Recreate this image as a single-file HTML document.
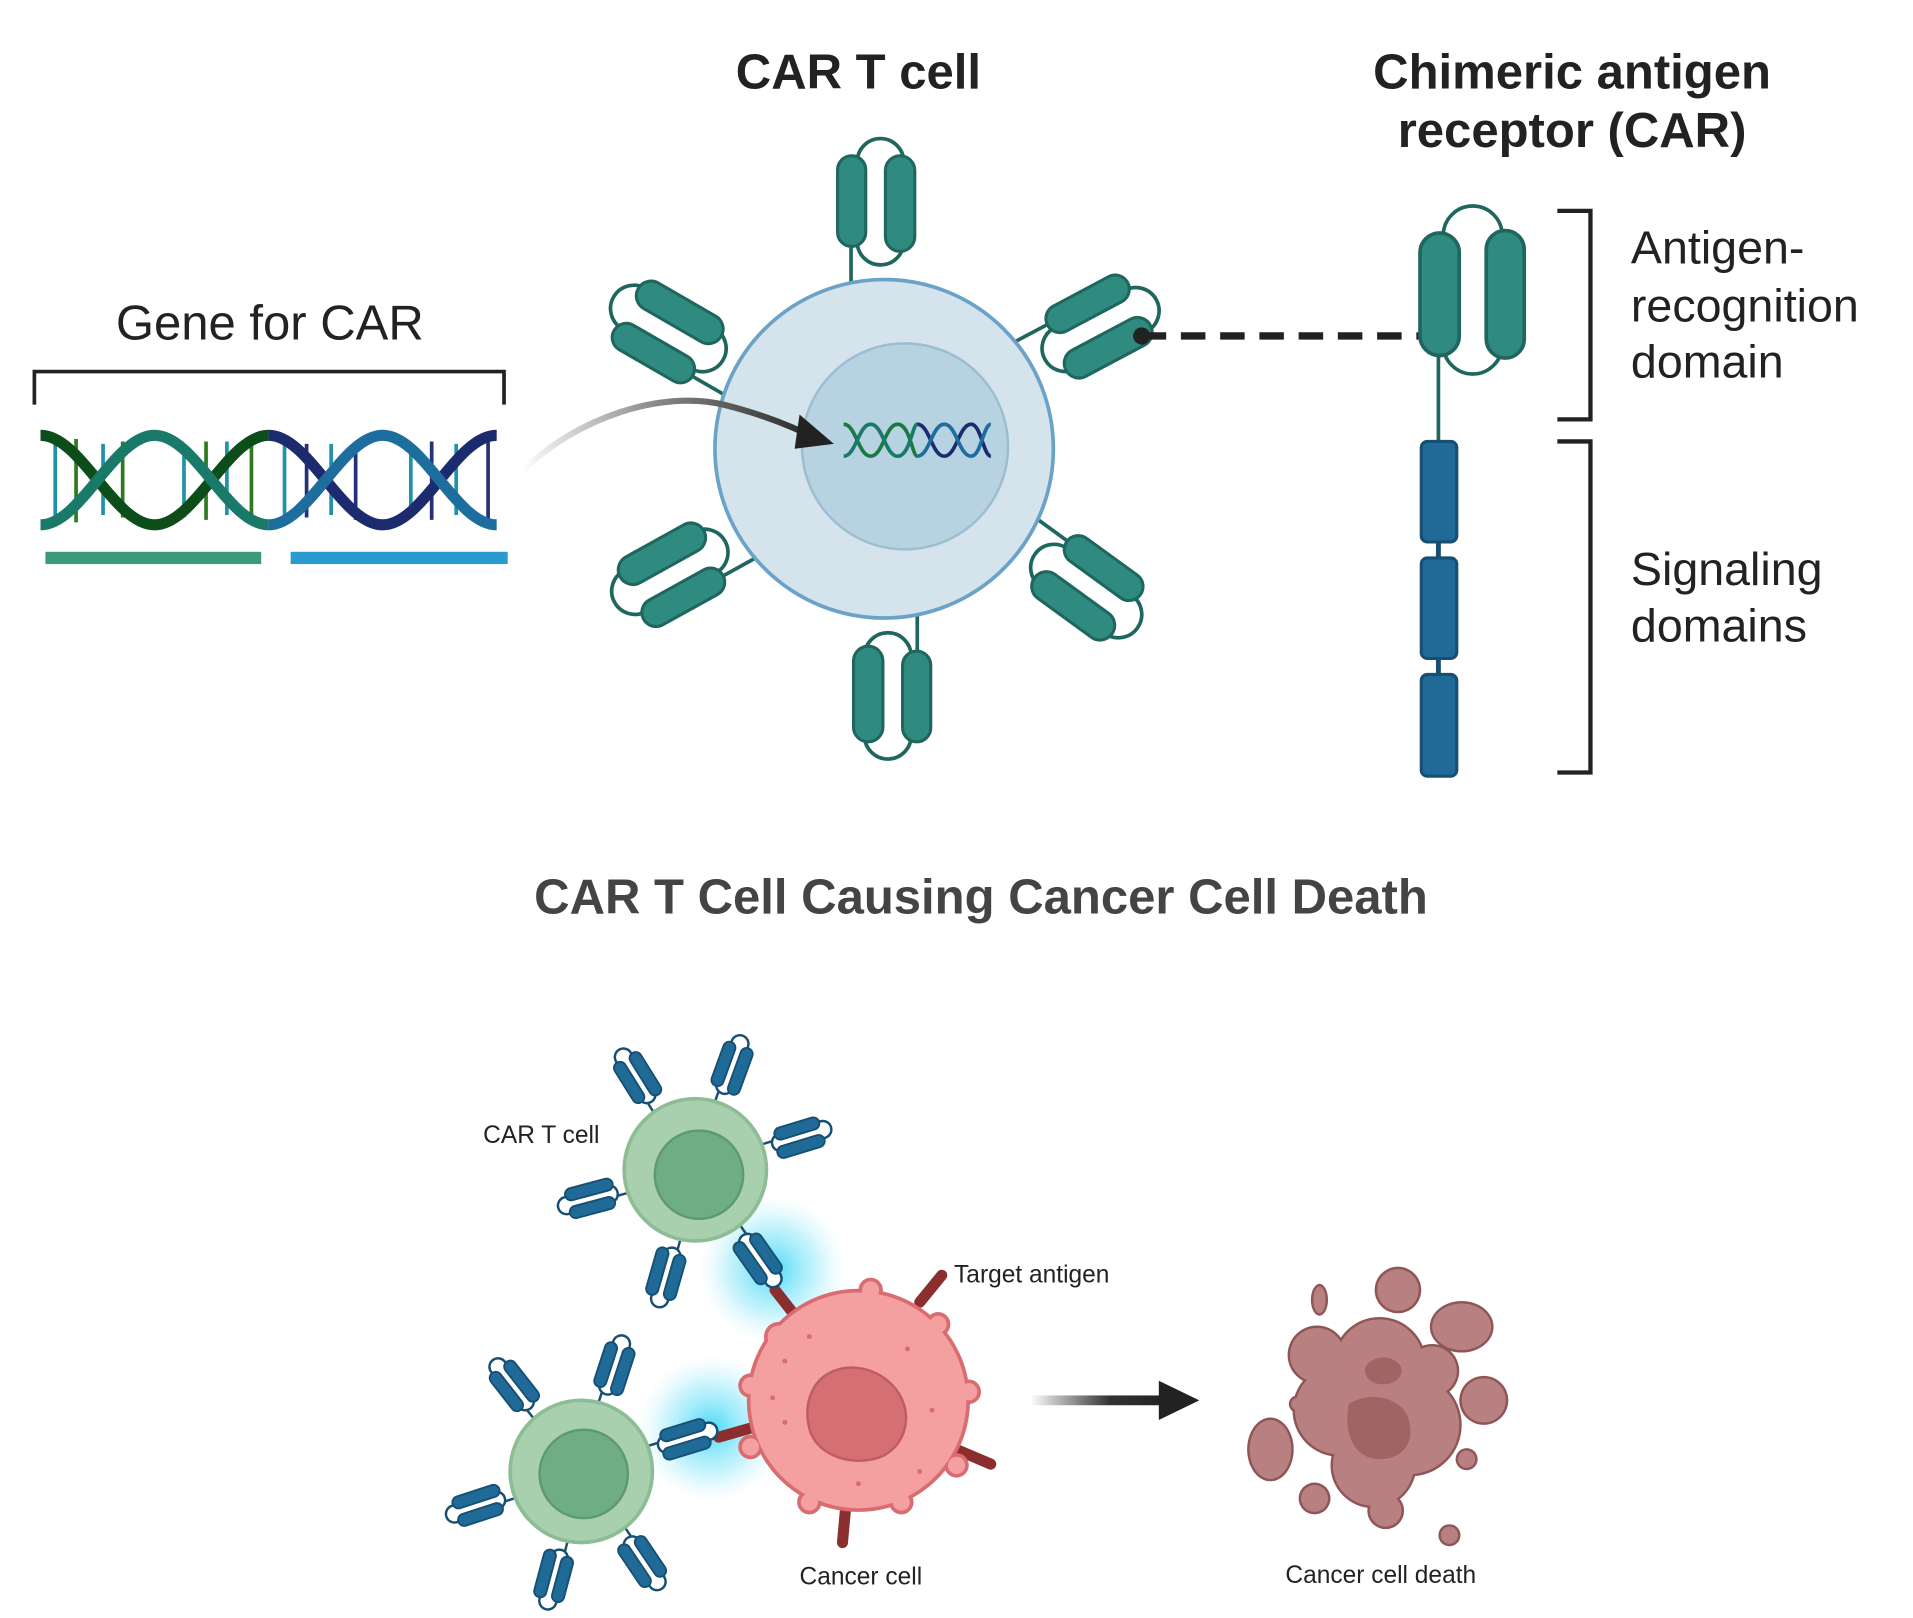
<!DOCTYPE html>
<html><head><meta charset="utf-8"><style>
html,body{margin:0;padding:0;background:#fff;}
svg{display:block;}
text{font-family:"Liberation Sans",Arial,sans-serif;}
</style></head><body>
<svg width="1913" height="1618" viewBox="0 0 1560 1319.5" xmlns="http://www.w3.org/2000/svg">
<defs>
<linearGradient id="ag" x1="0" y1="0" x2="1" y2="0"><stop offset="0" stop-color="#fff"/><stop offset="0.45" stop-color="#888"/><stop offset="1" stop-color="#222"/></linearGradient>
<linearGradient id="ag2" x1="0" y1="0" x2="1" y2="0"><stop offset="0" stop-color="#fff"/><stop offset="0.6" stop-color="#333"/><stop offset="1" stop-color="#222"/></linearGradient>
<radialGradient id="glow"><stop offset="0" stop-color="#3fd8f5" stop-opacity="0.95"/><stop offset="0.6" stop-color="#8ee8fa" stop-opacity="0.5"/><stop offset="1" stop-color="#c8f3fd" stop-opacity="0"/></radialGradient>
<g id="bigR">
 <line x1="-27" y1="-136" x2="-27" y2="-168" stroke="#1e665e" stroke-width="3"/>
 <rect x="-22" y="-253" width="38" height="103" rx="19" fill="#fff" stroke="#1e665e" stroke-width="3"/>
 <rect x="-38" y="-239" width="23" height="74" rx="11.5" fill="#2f8a80" stroke="#1e665e" stroke-width="2.5"/>
 <rect x="1" y="-239" width="24" height="78" rx="12" fill="#2f8a80" stroke="#1e665e" stroke-width="2.5"/>
</g>
<g id="smR">
 <line x1="-4" y1="0" x2="-4" y2="-12" stroke="#174f72" stroke-width="2"/>
 <rect x="-8" y="-58" width="14" height="50" rx="7" fill="#fff" stroke="#174f72" stroke-width="2"/>
 <rect x="-13" y="-50" width="10" height="38" rx="5" fill="#1f6a96" stroke="#174f72" stroke-width="1.5"/>
 <rect x="2" y="-50" width="10" height="40" rx="5" fill="#1f6a96" stroke="#174f72" stroke-width="1.5"/>
</g>
</defs>

<text x="700" y="72" font-size="40" font-weight="bold" text-anchor="middle" fill="#222">CAR T cell</text>
<text x="1282" y="72" font-size="40" font-weight="bold" text-anchor="middle" fill="#222">Chimeric antigen</text>
<text x="1282" y="120" font-size="40" font-weight="bold" text-anchor="middle" fill="#222">receptor (CAR)</text>
<text x="220" y="277" font-size="40" text-anchor="middle" fill="#222">Gene for CAR</text>

<path d="M28 330 V303 H411 V330" fill="none" stroke="#222" stroke-width="3"/>

<g stroke-width="3">
<line x1="45" y1="360" x2="45" y2="425" stroke="#1c93a8"/><line x1="62" y1="358" x2="62" y2="426" stroke="#2e7a20"/>
<line x1="84" y1="362" x2="84" y2="420" stroke="#1c93a8"/><line x1="100" y1="360" x2="100" y2="422" stroke="#2e7a20"/>
<line x1="150" y1="362" x2="150" y2="422" stroke="#1c93a8"/><line x1="168" y1="360" x2="168" y2="424" stroke="#2e7a20"/>
<line x1="185" y1="360" x2="185" y2="420" stroke="#1c93a8"/><line x1="205" y1="358" x2="205" y2="425" stroke="#2e7a20"/>
<line x1="232" y1="360" x2="232" y2="425" stroke="#1c93a8"/><line x1="250" y1="362" x2="250" y2="422" stroke="#26307a"/>
<line x1="270" y1="362" x2="270" y2="420" stroke="#1c93a8"/><line x1="290" y1="360" x2="290" y2="424" stroke="#26307a"/>
<line x1="335" y1="362" x2="335" y2="422" stroke="#1c93a8"/><line x1="352" y1="360" x2="352" y2="424" stroke="#26307a"/>
<line x1="372" y1="362" x2="372" y2="420" stroke="#1c93a8"/><line x1="398" y1="358" x2="398" y2="426" stroke="#26307a"/>
</g>
<g fill="none" stroke-width="9">
<path d="M33 355 C66 355 93 428 126 428 C159 428 186 355 219 355" stroke="#0d4d1a"/>
<path d="M33 428 C66 428 93 355 126 355 C159 355 186 428 219 428" stroke="#1a7a6a"/>
<path d="M219 355 C252 355 279 428 312 428 C345 428 372 355 405 355" stroke="#1c2a6e"/>
<path d="M219 428 C252 428 279 355 312 355 C345 355 372 428 405 428" stroke="#1d6e9e"/>
</g>
<rect x="37" y="450" width="176" height="10" fill="#3d9a78"/>
<rect x="237" y="450" width="177" height="10" fill="#2a9bd0"/>

<use href="#bigR" transform="translate(721,366) rotate(0)"/>
<use href="#bigR" transform="translate(721,366) rotate(-60)"/>
<use href="#bigR" transform="translate(721,366) rotate(62)"/>
<use href="#bigR" transform="translate(721,366) rotate(-119)"/>
<use href="#bigR" transform="translate(721,366) rotate(126)"/>
<use href="#bigR" transform="translate(721,366) rotate(180)"/>

<circle cx="721" cy="366" r="138" fill="#d5e3ec" stroke="#6ba2c8" stroke-width="3"/>
<ellipse cx="738" cy="364" rx="84" ry="84" fill="#b7d3e2" stroke="#9dbdd1" stroke-width="2"/>
<g fill="none" stroke-width="3">
<path d="M688 346 C698 346 700 372 710 372 C720 372 722 346 732 346 C742 346 744 372 748 372" stroke="#1a7a40"/>
<path d="M688 372 C698 372 700 346 710 346 C720 346 722 372 732 372 C742 372 744 346 748 346" stroke="#1a7a6a"/>
<path d="M748 346 C758 346 760 372 770 372 C780 372 782 346 792 346 C800 346 802 372 808 372" stroke="#1c2a6e"/>
<path d="M748 372 C758 372 760 346 770 346 C780 346 782 372 792 372 C800 372 802 346 808 346" stroke="#1d6e9e"/>
</g>

<path d="M425 385 C470 340 540 318 590 330 C630 340 655 352 670 360" fill="none" stroke="url(#ag)" stroke-width="5"/>
<polygon points="652,338 680,362 648,366" fill="#222"/>

<circle cx="931" cy="274" r="7" fill="#222"/>
<line x1="931" y1="274" x2="1166" y2="274" stroke="#222" stroke-width="6" stroke-dasharray="20 12"/>

<line x1="1173" y1="285" x2="1173" y2="362" stroke="#1e665e" stroke-width="3"/>
<rect x="1177" y="168" width="48" height="137" rx="24" fill="#fff" stroke="#1e665e" stroke-width="3"/>
<rect x="1158" y="190" width="32" height="100" rx="16" fill="#2f8a80" stroke="#1e665e" stroke-width="3"/>
<rect x="1212" y="188" width="31" height="104" rx="15.5" fill="#2f8a80" stroke="#1e665e" stroke-width="3"/>
<line x1="1173" y1="440" x2="1173" y2="555" stroke="#174f72" stroke-width="4"/>
<rect x="1159" y="360" width="29" height="82" rx="5" fill="#1f6a96" stroke="#174f72" stroke-width="2.5"/>
<rect x="1159" y="455" width="29" height="82" rx="5" fill="#1f6a96" stroke="#174f72" stroke-width="2.5"/>
<rect x="1159" y="550" width="29" height="83" rx="5" fill="#1f6a96" stroke="#174f72" stroke-width="2.5"/>

<path d="M1270 172 H1297 V342 H1270" fill="none" stroke="#222" stroke-width="3.5"/>
<path d="M1270 360 H1297 V630 H1270" fill="none" stroke="#222" stroke-width="3.5"/>
<g font-size="38" fill="#222">
<text x="1330" y="215">Antigen-</text>
<text x="1330" y="262">recognition</text>
<text x="1330" y="308">domain</text>
<text x="1330" y="477">Signaling</text>
<text x="1330" y="523">domains</text>
</g>

<text x="800" y="745" font-size="40" font-weight="bold" text-anchor="middle" fill="#444">CAR T Cell Causing Cancer Cell Death</text>

<circle cx="630" cy="1035" r="60" fill="url(#glow)"/>
<circle cx="580" cy="1165" r="60" fill="url(#glow)"/>

<g stroke="#8a2e2e" stroke-width="9" stroke-linecap="round">
<line x1="650" y1="1075" x2="632" y2="1052"/>
<line x1="750" y1="1062" x2="768" y2="1040"/>
<line x1="618" y1="1163" x2="586" y2="1172"/>
<line x1="775" y1="1180" x2="808" y2="1194"/>
<line x1="690" y1="1225" x2="687" y2="1258"/>
</g>

<g fill="#d96c70">
<circle cx="700" cy="1142" r="91"/>
<circle cx="635" cy="1090" r="12"/><circle cx="710" cy="1052" r="10"/><circle cx="765" cy="1080" r="10"/>
<circle cx="790" cy="1135" r="10"/><circle cx="780" cy="1195" r="10"/><circle cx="735" cy="1225" r="10"/>
<circle cx="660" cy="1225" r="10"/><circle cx="612" cy="1180" r="10"/><circle cx="612" cy="1130" r="10"/>
</g>
<g fill="#f4a0a0">
<circle cx="700" cy="1142" r="88"/>
<circle cx="635" cy="1090" r="9"/><circle cx="710" cy="1052" r="7"/><circle cx="765" cy="1080" r="7"/>
<circle cx="790" cy="1135" r="7"/><circle cx="780" cy="1195" r="7"/><circle cx="735" cy="1225" r="7"/>
<circle cx="660" cy="1225" r="7"/><circle cx="612" cy="1180" r="7"/><circle cx="612" cy="1130" r="7"/>
</g>
<path d="M680 1118 C700 1110 725 1120 735 1140 C745 1160 735 1185 712 1190 C690 1195 665 1185 660 1165 C655 1145 662 1125 680 1118 Z" fill="#d46f74" stroke="#c05c62" stroke-width="2"/>
<g fill="#d96c70"><circle cx="640" cy="1110" r="2"/><circle cx="660" cy="1090" r="2"/><circle cx="740" cy="1100" r="2"/><circle cx="760" cy="1150" r="2"/><circle cx="640" cy="1160" r="2"/><circle cx="700" cy="1210" r="2"/><circle cx="750" cy="1200" r="2"/><circle cx="630" cy="1140" r="2"/></g>

<g>
<use href="#smR" transform="translate(567,954) rotate(-32) translate(0,-58)"/>
<use href="#smR" transform="translate(567,954) rotate(20) translate(0,-58)"/>
<use href="#smR" transform="translate(567,954) rotate(73) translate(0,-58)"/>
<use href="#smR" transform="translate(567,954) rotate(-105) translate(0,-58)"/>
<use href="#smR" transform="translate(567,954) rotate(-164) translate(0,-58)"/>
<use href="#smR" transform="translate(567,954) rotate(145) translate(0,-58)"/>
<circle cx="567" cy="954" r="58" fill="#a9d0ae" stroke="#8dbd94" stroke-width="3"/>
<circle cx="570" cy="958" r="36" fill="#6fae85" stroke="#5d9a72" stroke-width="2"/>
</g>
<g>
<use href="#smR" transform="translate(474,1200) rotate(-38) translate(0,-58)"/>
<use href="#smR" transform="translate(474,1200) rotate(18) translate(0,-58)"/>
<use href="#smR" transform="translate(474,1200) rotate(73) translate(0,-58)"/>
<use href="#smR" transform="translate(474,1200) rotate(-108) translate(0,-58)"/>
<use href="#smR" transform="translate(474,1200) rotate(-165) translate(0,-58)"/>
<use href="#smR" transform="translate(474,1200) rotate(146) translate(0,-58)"/>
<circle cx="474" cy="1200" r="58" fill="#a9d0ae" stroke="#8dbd94" stroke-width="3"/>
<circle cx="476" cy="1202" r="36" fill="#6fae85" stroke="#5d9a72" stroke-width="2"/>
</g>

<rect x="840" y="1138" width="108" height="8" fill="url(#ag2)"/>
<polygon points="945,1126 978,1142 945,1158" fill="#222"/>

<!-- dead cell -->
<g fill="#8e5656">
<circle cx="1125" cy="1112" r="38"/><circle cx="1092" cy="1150" r="38"/><circle cx="1150" cy="1162" r="42"/>
<circle cx="1120" cy="1195" r="35"/><circle cx="1074" cy="1105" r="24"/><circle cx="1168" cy="1118" r="22"/>
<circle cx="1140" cy="1052" r="19"/><ellipse cx="1192" cy="1082" rx="26" ry="21"/><circle cx="1210" cy="1142" r="20"/>
<ellipse cx="1036" cy="1182" rx="19" ry="26"/><circle cx="1072" cy="1222" r="13"/><circle cx="1130" cy="1232" r="15"/>
<circle cx="1182" cy="1252" r="9"/><ellipse cx="1076" cy="1060" rx="7" ry="13"/><circle cx="1196" cy="1190" r="9"/>
<circle cx="1058" cy="1145" r="7"/>
</g>
<g fill="#b88080">
<circle cx="1125" cy="1112" r="36"/><circle cx="1092" cy="1150" r="36"/><circle cx="1150" cy="1162" r="40"/>
<circle cx="1120" cy="1195" r="33"/><circle cx="1074" cy="1105" r="22"/><circle cx="1168" cy="1118" r="20"/>
<circle cx="1140" cy="1052" r="17"/><ellipse cx="1192" cy="1082" rx="24" ry="19"/><circle cx="1210" cy="1142" r="18"/>
<ellipse cx="1036" cy="1182" rx="17" ry="24"/><circle cx="1072" cy="1222" r="11"/><circle cx="1130" cy="1232" r="13"/>
<circle cx="1182" cy="1252" r="7"/><ellipse cx="1076" cy="1060" rx="5" ry="11"/><circle cx="1196" cy="1190" r="7"/>
<circle cx="1058" cy="1145" r="5"/>
</g>
<path d="M1100 1145 C1115 1135 1140 1138 1148 1155 C1155 1175 1145 1190 1125 1190 C1105 1190 1095 1170 1100 1145 Z" fill="#a06464"/>
<ellipse cx="1128" cy="1118" rx="15" ry="11" fill="#a06464"/>

<g font-size="20" fill="#222">
<text x="394" y="932">CAR T cell</text>
<text x="778" y="1046">Target antigen</text>
<text x="702" y="1292" text-anchor="middle">Cancer cell</text>
<text x="1126" y="1291" text-anchor="middle">Cancer cell death</text>
</g>
</svg>
</body></html>
